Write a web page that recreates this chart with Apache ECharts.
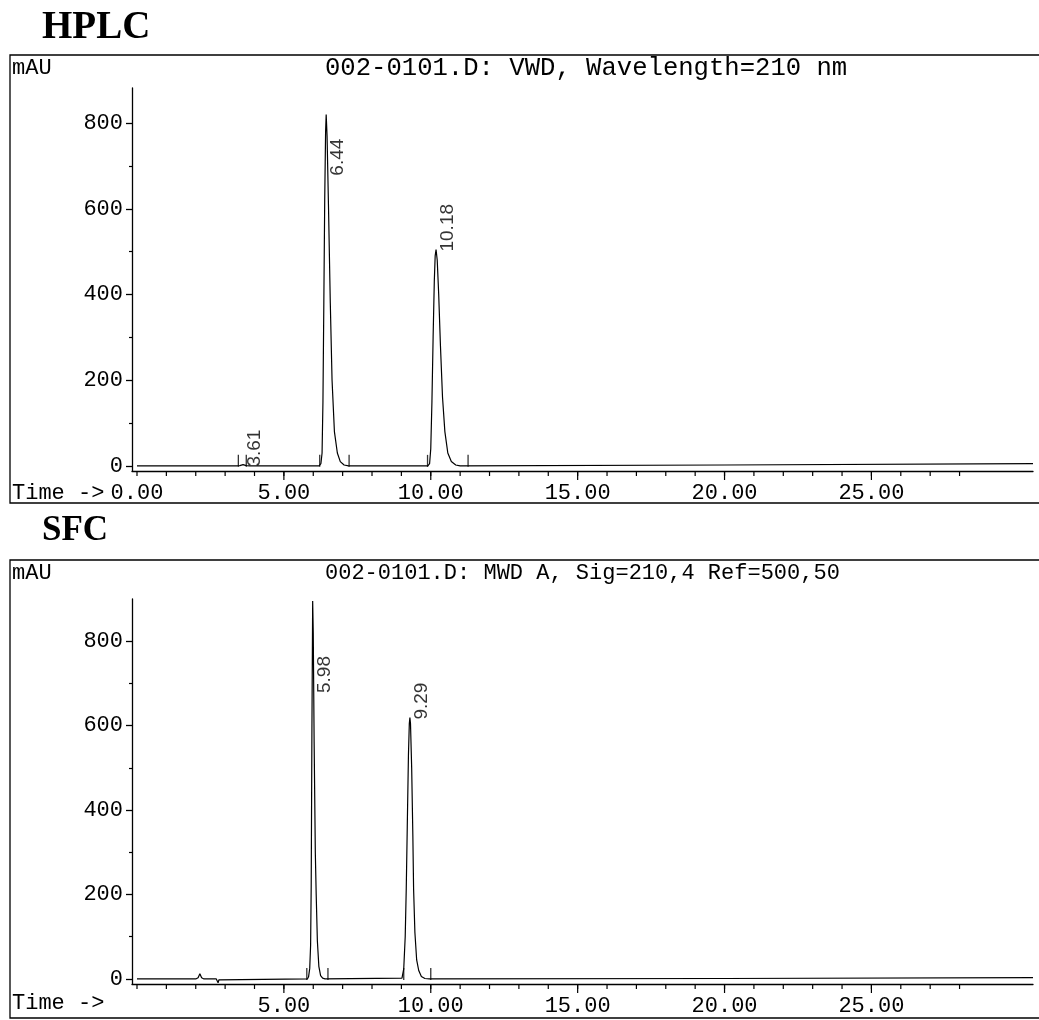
<!DOCTYPE html>
<html><head><meta charset="utf-8">
<script src="https://cdn.jsdelivr.net/npm/echarts@6/dist/echarts.min.js"></script>
<style>html,body{margin:0;padding:0;background:#fff}#c{width:1039px;height:1020px}</style>
</head><body><div id="c"></div>
<script>
// ---------- data ----------
// HPLC trace (time in min, signal in mAU)
const hplcTime   = [0, 3.40, 3.50, 3.61, 3.72, 3.85, 6.20, 6.26, 6.30, 6.33, 6.36, 6.39, 6.42, 6.44, 6.47, 6.52, 6.58, 6.64, 6.72, 6.82, 6.92, 7.05, 7.20, 9.90, 9.96, 10.00, 10.04, 10.08, 10.12, 10.15, 10.18, 10.22, 10.27, 10.33, 10.40, 10.48, 10.58, 10.70, 10.85, 11.00, 20.00, 30.50];
const hplcSignal = [0, 0,    0.5,  3,    0.5,  0,    0,    5,    30,   150,  380,  620,  780,  820,  770,  600,  380,  200,  80,   30,   10,   2,    0,    0,    5,    40,    150,   300,   430,   490,   505,   480,   400,   280,   160,   80,    30,    10,    2,     0,     2,     5];
// SFC trace
const sfcTime   = [0, 2.00, 2.08, 2.14, 2.20, 2.28, 2.70, 2.74, 2.76, 2.79, 2.83, 5.80, 5.84, 5.88, 5.91, 5.93, 5.955, 5.98, 6.00, 6.03, 6.07, 6.10, 6.14, 6.19, 6.25, 6.32, 6.40, 9.02, 9.08, 9.13, 9.165, 9.20, 9.24, 9.27, 9.29, 9.31, 9.35, 9.39, 9.416, 9.46, 9.52, 9.59, 9.68, 9.80, 9.95, 20.00, 30.50];
const sfcSignal = [0, 0,    3,    12,   3,    0,    0,    -2,   -9,   -2,   0,    0,    5,    25,   80,   220,  600,   895,  820,  560,  300,  200,  90,   30,   8,    2,    0,    2,    24,   100,  212,   360,  530,  605,  619,  605,  500,  340,  212,   110,  45,   20,   6,    1,    0,    1,     3];
// retention-time labels
const hplcPeakRT     = [3.61, 6.44, 10.18];
const hplcPeakHeight = [3, 820, 505];
const sfcPeakRT      = [5.98, 9.29];
const sfcPeakHeight  = [895, 619];
// integration start/stop events (min)
const hplcEvents = [3.45, 3.72, 6.22, 7.22, 9.89, 11.27];
const sfcEvents  = [5.78, 6.50, 9.08, 10.00];
// axis ticks
const xMajorTicks = [5, 10, 15, 20, 25];
const xMinorTicks = [0, 1, 2, 3, 4, 5, 6, 7, 8, 9, 10, 11, 12, 13, 14, 15, 16, 17, 18, 19, 20, 21, 22, 23, 24, 25, 26, 27, 28];
const hplcXLabels = [0, 5, 10, 15, 20, 25];
const sfcXLabels  = [5, 10, 15, 20, 25];
const yMajorTicks = [0, 200, 400, 600, 800];
const yMinorTicks = [100, 300, 500, 700];
// texts
const hplcTitle  = 'HPLC';
const sfcTitle   = 'SFC';
const hplcHeader = '002-0101.D: VWD, Wavelength=210 nm';
const sfcHeader  = '002-0101.D: MWD A, Sig=210,4 Ref=500,50';
const yUnit = 'mAU';
const xName = 'Time ->';

// ---------- chart ----------
const MONO = '"Courier New","Liberation Mono",monospace';
const INK = '#000';
const LABEL_CEILING = 682;
const X_MIN = -0.17, X_MAX = 30.5, Y_MIN = -12;
const zip = (a, b) => a.map((v, i) => [v, b[i]]);
const noLabel = { show: false };
const noTick = { show: false };
const noLine = { show: false, onZero: false };
const noSplit = { show: false };

function xAxesFor(gi, labels) {
  return [{ gridIndex: gi, type: 'value', min: X_MIN, max: X_MAX, position: 'bottom', splitLine: noSplit,
    axisLine: { show: true, onZero: false, lineStyle: { color: INK, width: 1.3 } },
    axisTick: noTick,
    axisLabel: { show: true, customValues: labels, formatter: v => Number(v).toFixed(2), color: INK,
                 fontFamily: MONO, fontSize: 22, margin: 11 } }];
}
function yAxesFor(gi, max) {
  const base = { gridIndex: gi, type: 'value', min: Y_MIN, max: max, position: 'left', splitLine: noSplit };
  return [
    Object.assign({}, base, {
      axisLine: { show: true, onZero: false, lineStyle: { color: INK, width: 1.3 } },
      axisTick: { show: true, customValues: yMajorTicks, length: 6, lineStyle: { color: INK, width: 1.3 } },
      axisLabel: noLabel }),
    Object.assign({}, base, {
      axisLine: noLine,
      axisTick: { show: true, customValues: yMinorTicks, length: 3, lineStyle: { color: INK, width: 1.2 } },
      axisLabel: noLabel }),
    Object.assign({}, base, {
      axisLine: noLine, axisTick: noTick,
      axisLabel: { show: true, customValues: yMajorTicks, color: INK, fontFamily: MONO, fontSize: 22, margin: 9 } })
  ];
}
// x-axis tick marks hanging under the time axis, placed through the axis scales
function tickSeries(xi, yi, values, len) {
  return { type: 'custom', xAxisIndex: xi, yAxisIndex: yi, silent: true, clip: false, z: 10,
    data: values.map(v => [v, 0]),
    renderItem: (params, api) => {
      const p = api.coord([api.value(0), api.value(1)]);
      const bottom = params.coordSys.y + params.coordSys.height;
      return { type: 'line', shape: { x1: p[0], y1: bottom, x2: p[0], y2: bottom + len },
               style: { stroke: INK, lineWidth: 1.2 } };
    } };
}
function seriesFor(xi, yi, t, s, rts, hts, events) {
  return [
    { type: 'line', xAxisIndex: xi, yAxisIndex: yi, data: zip(t, s), showSymbol: false,
      lineStyle: { color: INK, width: 1.2 }, itemStyle: { color: INK }, silent: true },
    { type: 'scatter', xAxisIndex: xi, yAxisIndex: yi, symbol: 'circle', symbolSize: 2,
      itemStyle: { color: 'rgba(0,0,0,0)' }, silent: true,
      data: rts.map((r, i) => [r, Math.min(hts[i], LABEL_CEILING)]),
      label: { show: true, formatter: p => p.value[0].toFixed(2), rotate: 90, position: [13, 3],
               align: 'left', verticalAlign: 'middle', color: INK,
               fontFamily: '"Liberation Sans",Arial,sans-serif', fontSize: 19 } },
    { type: 'scatter', xAxisIndex: xi, yAxisIndex: yi, symbol: 'rect', symbolSize: [1.3, 12],
      symbolOffset: [0, -5], itemStyle: { color: INK }, silent: true,
      data: events.map(e => [e, 0]) },
    tickSeries(xi, yi, xMinorTicks, 5),
    tickSeries(xi, yi, xMajorTicks, 9)
  ];
}

const chart = echarts.init(document.getElementById('c'), null, { renderer: 'canvas' });
const txt = (text, left, top, style) => ({ text, left, top, padding: 0,
  textStyle: Object.assign({ color: INK, fontFamily: MONO, fontSize: 22, fontWeight: 'normal' }, style || {}) });
chart.setOption({
  animation: false,
  backgroundColor: '#fff',
  title: [
    txt(hplcTitle, 42, 8, { fontFamily: '"Liberation Serif","Times New Roman",serif', fontWeight: 'bold', fontSize: 39 }),
    txt(sfcTitle, 42, 513, { fontFamily: '"Liberation Serif","Times New Roman",serif', fontWeight: 'bold', fontSize: 35 }),
    txt(yUnit, 12, 57),
    txt(hplcHeader, 325, 55, { fontSize: 25.6 }),
    txt(xName, 12, 482),
    txt(yUnit, 12, 562),
    txt(sfcHeader, 325, 562),
    txt(xName, 12, 992)
  ],
  grid: [
    { left: 132, top: 88, width: 901, height: 383 },
    { left: 132, top: 599, width: 901, height: 385 }
  ],
  xAxis: [...xAxesFor(0, hplcXLabels), ...xAxesFor(1, sfcXLabels)],
  yAxis: [...yAxesFor(0, 882), ...yAxesFor(1, 900)],
  graphic: [
    { type: 'polyline', silent: true, shape: { points: [[1039, 55], [10, 55], [10, 503], [1039, 503]] },
      style: { stroke: INK, fill: null, lineWidth: 1.3 } },
    { type: 'polyline', silent: true, shape: { points: [[1039, 560], [10, 560], [10, 1018], [1039, 1018]] },
      style: { stroke: INK, fill: null, lineWidth: 1.3 } }
  ],
  series: [
    ...seriesFor(0, 0, hplcTime, hplcSignal, hplcPeakRT, hplcPeakHeight, hplcEvents),
    ...seriesFor(1, 3, sfcTime, sfcSignal, sfcPeakRT, sfcPeakHeight, sfcEvents)
  ]
});
</script></body></html>
